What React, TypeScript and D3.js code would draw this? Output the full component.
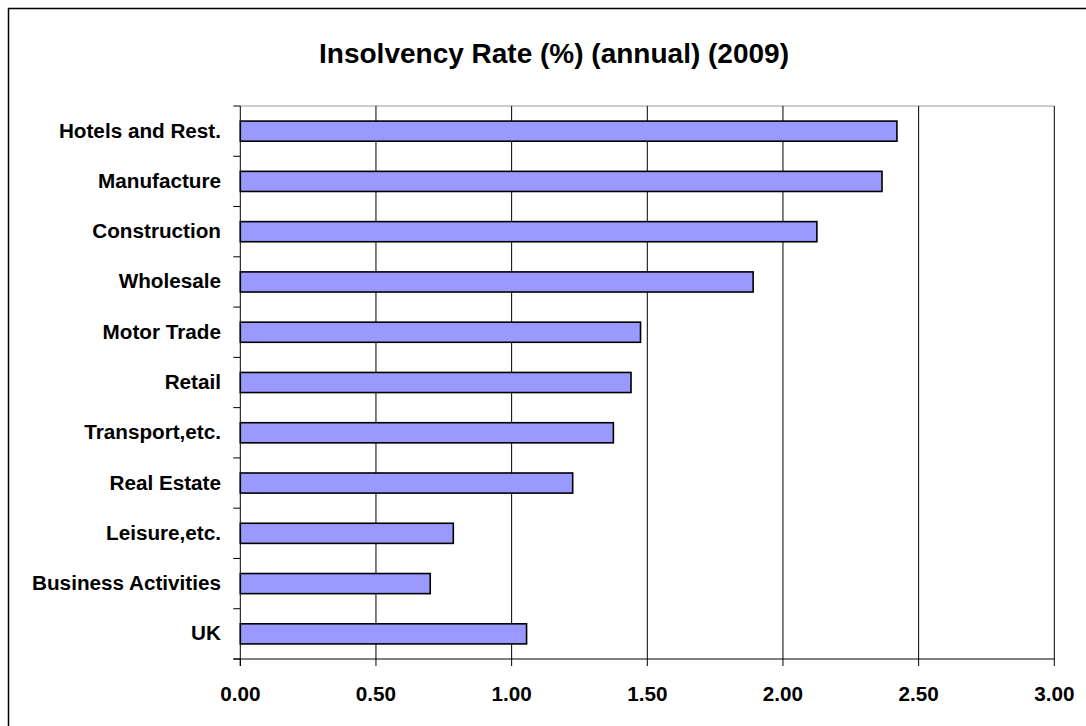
import React from "react";
import * as d3 from "d3";

const categories = [
  "Hotels and Rest.",
  "Manufacture",
  "Construction",
  "Wholesale",
  "Motor Trade",
  "Retail",
  "Transport,etc.",
  "Real Estate",
  "Leisure,etc.",
  "Business Activities",
  "UK",
];
const values = [2.42, 2.365, 2.125, 1.89, 1.475, 1.44, 1.375, 1.225, 0.785, 0.7, 1.055];
const xTicks = [0, 0.5, 1.0, 1.5, 2.0, 2.5, 3.0];
const title = "Insolvency Rate (%) (annual) (2009)";

export default function App() {
  const W = 1086;
  const H = 726;
  const left = 240.3;
  const right = 1054.3;
  const top = 106;
  const bottom = 659;
  const font = "'Liberation Sans', Arial, sans-serif";

  const x = d3.scaleLinear().domain([0, 3]).range([left, right]);
  const y = d3
    .scaleBand<string>()
    .domain(categories)
    .range([top, bottom])
    .paddingInner(0.6)
    .paddingOuter(0.3);
  const step = y.step();
  const boundaries = d3.range(categories.length + 1).map((i) => top + i * step);

  return (
    <svg
      width={W}
      height={H}
      style={{ position: "absolute", left: 0, top: 0, background: "#fff" }}
    >
      <rect x={8.5} y={8.5} width={1200} height={1200} fill="#fff" stroke="#000" strokeWidth={1.5} />
      <text
        x={554}
        y={63}
        textAnchor="middle"
        fontFamily={font}
        fontWeight="bold"
        fontSize={28}
        fill="#000"
      >
        {title}
      </text>
      {/* plot area top border */}
      <line x1={left} x2={right} y1={top} y2={top} stroke="#999" strokeWidth={1} />
      {/* gridlines */}
      {xTicks.slice(1).map((t) => (
        <line key={"g" + t} x1={x(t)} x2={x(t)} y1={top} y2={bottom} stroke="#000" strokeWidth={1} />
      ))}
      {/* bars */}
      {categories.map((c, i) => (
        <rect
          key={c}
          x={x(0)}
          y={y(c)!}
          width={x(values[i]) - x(0)}
          height={y.bandwidth()}
          fill="#9999FF"
          stroke="#000"
          strokeWidth={1.6}
        />
      ))}
      {/* y axis */}
      <line x1={left} x2={left} y1={top} y2={bottom + 7} stroke="#000" strokeWidth={1} />
      {boundaries.map((b, i) => (
        <line key={"yt" + i} x1={left - 7} x2={left} y1={b} y2={b} stroke="#000" strokeWidth={1} />
      ))}
      {categories.map((c) => (
        <text
          key={"l" + c}
          x={221}
          y={y(c)! + y.bandwidth() / 2 + 6.5}
          textAnchor="end"
          fontFamily={font}
          fontWeight="bold"
          fontSize={20.7}
          fill="#000"
        >
          {c}
        </text>
      ))}
      {/* x axis */}
      <line x1={left - 7} x2={right} y1={bottom} y2={bottom} stroke="#000" strokeWidth={1} />
      {xTicks.map((t) => (
        <g key={"xt" + t}>
          <line x1={x(t)} x2={x(t)} y1={bottom} y2={bottom + 7} stroke="#000" strokeWidth={1} />
          <text
            x={x(t)}
            y={700.5}
            textAnchor="middle"
            fontFamily={font}
            fontWeight="bold"
            fontSize={20.7}
            fill="#000"
          >
            {d3.format(".2f")(t)}
          </text>
        </g>
      ))}
    </svg>
  );
}
